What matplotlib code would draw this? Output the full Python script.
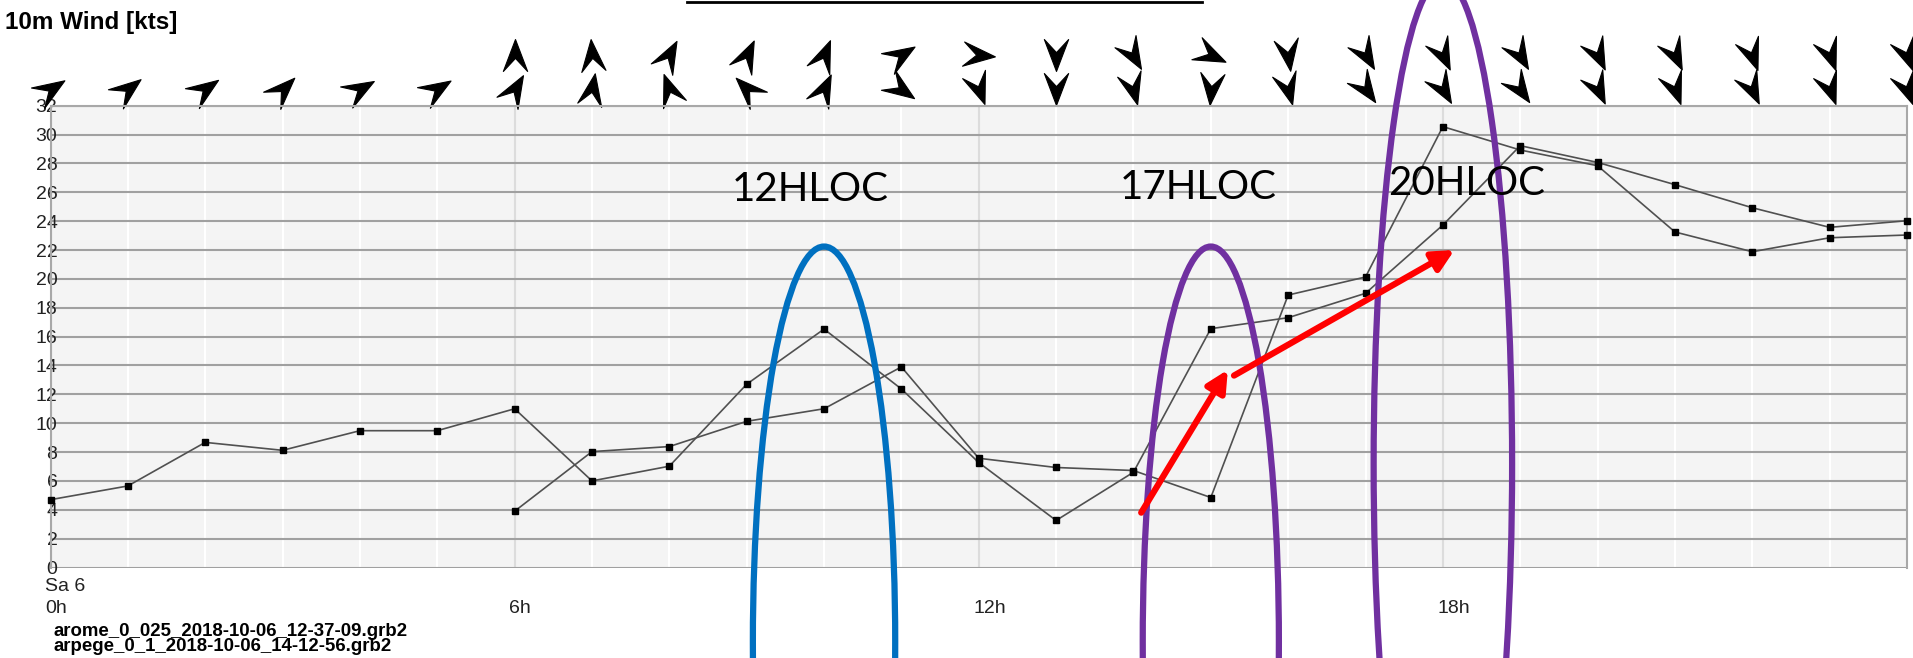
import numpy as np
import matplotlib
matplotlib.use('Agg')
import matplotlib.pyplot as plt
from matplotlib.patches import Ellipse
from matplotlib.path import Path
from matplotlib.markers import MarkerStyle
from matplotlib.transforms import Affine2D, blended_transform_factory
from matplotlib.lines import Line2D

# ── data: wind speed [kts] per forecast hour ───────────
hours_a = list(range(0, 25))
speed_a = [4.7, 5.65, 8.67, 8.12, 9.48, 9.48, 11.0, 6.0, 7.02, 12.7, 16.52, 12.37,
           7.27, 3.26, 6.6, 16.55, 17.31, 19.0, 23.73, 29.23, 28.07, 26.53, 24.93,
           23.57, 24.03]
hours_b = list(range(6, 25))
speed_b = [3.9, 8.03, 8.38, 10.13, 11.0, 13.9, 7.57, 6.93, 6.72, 4.85, 18.88, 20.13,
           30.55, 28.93, 27.84, 23.25, 21.88, 22.85, 23.04]

# direction the arrow points to (deg, clockwise from north)
dir_a = [57, 52, 55, 45, 60, 58, 30, 10, 340, 315, 25, 125, 160, 180, 165, 185,
         165, 145, 150, 145, 155, 160, 155, 160, 160]
dir_b = [0, 355, 28, 25, 22, 58, 95, 180, 150, 115, 172, 150, 155, 150, 155, 155,
         160, 160, 160]

yticks = list(range(0, 33, 2))
xlabels = [(0, 'Sa 6', '0h'), (6, '', '6h'), (12, '', '12h'), (18, '', '18h')]
files = ['arome_0_025_2018-10-06_12-37-09.grb2', 'arpege_0_1_2018-10-06_14-12-56.grb2']

# annotations drawn on top
labels = [('12HLOC', 732, 201), ('17HLOC', 1120, 199), ('20HLOC', 1388, 195)]
ellipses = [((10, -5.16), 1.84, 54.8, '#0070C0'),
            ((15, -5.16), 1.76, 54.8, '#7030A0'),
            ((18, 7.17), 1.79, 67.2, '#7030A0')]
red_arrows = [((14.1, 3.8), (15.22, 13.7)),
              ((15.3, 13.3), (18.15, 22.0))]

W, H = 1913, 658
SANS = 'Liberation Sans'
fig = plt.figure(figsize=(W / 100, H / 100), dpi=100)
ax = fig.add_axes([50.5 / W, 1 - 567.5 / H, (1907 - 50.5) / W, (567.5 - 105.7) / H])
ax.set_facecolor('#f4f4f4')
ax.set_xlim(0, 24)
ax.set_ylim(0, 32)

# grid
ax.set_xticks([0, 6, 12, 18])
ax.set_xticks(range(0, 25), minor=True)
ax.grid(True, which='minor', axis='x', color='white', lw=1.5)
ax.grid(True, which='major', axis='x', color='#dcdcdc', lw=1.5)
ax.set_yticks(yticks)
ax.set_yticklabels([str(v) for v in yticks], family=SANS, fontsize=14, color='#222222')
ax.grid(True, which='major', axis='y', color='#a0a0a0', lw=1.5)
ax.set_axisbelow(True)
ax.tick_params(axis='x', which='both', length=0, labelbottom=False)
ax.tick_params(axis='y', length=0, pad=-5)
for s in ['left', 'top', 'right']:
    ax.spines[s].set_color('#a8a8a8')
    ax.spines[s].set_linewidth(1.5)
ax.spines['bottom'].set_visible(False)

# series
for hh, vv in [(hours_a, speed_a), (hours_b, speed_b)]:
    ax.plot(hh, vv, color='#505050', lw=1.2, marker='s', ms=4,
            mfc='black', mec='black', zorder=3, clip_on=False)

# x labels
tr_x = blended_transform_factory(ax.transData, fig.transFigure)
for h, top, bot in xlabels:
    if top:
        ax.text(h - 0.07, 1 - 591 / H, top, transform=tr_x, ha='left', va='baseline',
                fontsize=14, color='#222222', family=SANS)
    ax.text(h - 0.07, 1 - 613 / H, bot, transform=tr_x, ha='left', va='baseline',
            fontsize=14, color='#222222', family=SANS)

# wind direction darts
dart = Path([(0, 0.5), (0.38, -0.5), (0, -0.09), (-0.38, -0.5), (0, 0.5)],
            [Path.MOVETO, Path.LINETO, Path.LINETO, Path.LINETO, Path.CLOSEPOLY])
for hh, dd, yy in [(hours_a, dir_a, 1 - 89 / H), (hours_b, dir_b, 1 - 55 / H)]:
    for h, d in zip(hh, dd):
        m = MarkerStyle(dart, transform=Affine2D().rotate_deg(-d))
        ax.plot([h], [yy], transform=tr_x, marker=m, ms=23, color='black',
                mec='black', mew=0.8, ls='none', clip_on=False)

# title and file names
fig.text(5 / W, 1 - 29.5 / H, '10m Wind [kts]', fontsize=17.5, fontweight='bold',
         ha='left', va='baseline', family=SANS)
for i, f in enumerate(files):
    fig.text(53 / W, 1 - (636 + 15 * i) / H, f, fontsize=13.4, fontweight='bold',
             ha='left', va='baseline', family=SANS)
fig.add_artist(Line2D([687 / W, 1202 / W], [1 - 1.5 / H, 1 - 1.5 / H],
                      color='black', lw=2))

# hand-drawn style annotations
for (c, w, h, col) in ellipses:
    ax.add_patch(Ellipse(c, w, h, fill=False, ec=col, lw=4.5, clip_on=False, zorder=5))
for (p0, p1) in red_arrows:
    ax.annotate('', xy=p1, xytext=p0,
                arrowprops=dict(arrowstyle='-|>', color='red', lw=4.5,
                                mutation_scale=32, shrinkA=0, shrinkB=0),
                zorder=6)
for txt, x, y in labels:
    fig.text(x / W, 1 - y / H, txt, fontsize=29, family='Lato',
             ha='left', va='baseline', color='black')

fig.savefig('out.png', dpi=100)
